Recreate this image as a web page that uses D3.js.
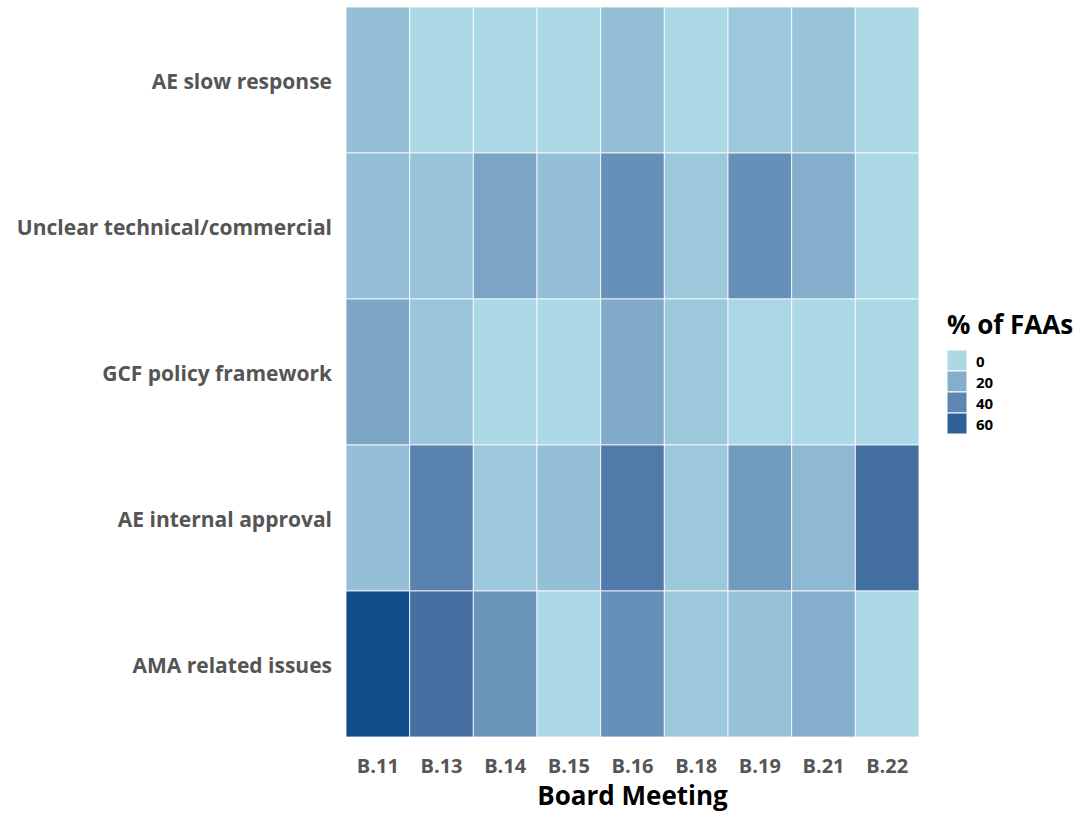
<!DOCTYPE html>
<html>
<head>
<meta charset="utf-8">
<script src="https://cdn.jsdelivr.net/npm/d3@7"></script>
<style>
  html, body { margin: 0; padding: 0; background: #ffffff; }
  svg { display: block; }
  svg text { font-family: "Open Sans", Lato, sans-serif; }
</style>
</head>
<body>
<svg id="chart" width="1091" height="813"></svg>
<script>
// ---- Data ----
const meetings = ["B.11", "B.13", "B.14", "B.15", "B.16", "B.18", "B.19", "B.21", "B.22"];
const issues = ["AE slow response", "Unclear technical/commercial", "GCF policy framework", "AE internal approval", "AMA related issues"];
const aeSlowResponse   = [12, 0, 0, 0, 12, 0, 8, 10, 0];
const unclearTechComm  = [12, 10, 25, 12, 35, 8, 35, 20, 0];
const gcfPolicy        = [24, 9, 0, 0, 22, 8, 1, 0, 0];
const aeInternal       = [12, 42, 8, 12, 46, 8, 30, 15, 52];
const amaRelated       = [70, 52, 33, 0, 35, 8, 11, 20, 0];
const legendBreaks = [0, 20, 40, 60];
const legendTitle = "% of FAAs";
const xTitle = "Board Meeting";

const seriesByIssue = [aeSlowResponse, unclearTechComm, gcfPolicy, aeInternal, amaRelated];
const cells = [];
issues.forEach((iss, i) => {
  meetings.forEach((m, j) => cells.push({ issue: iss, meeting: m, value: seriesByIssue[i][j] }));
});

// ---- Layout ----
const svg = d3.select("#chart");
const plot = { left: 346, right: 919, top: 7, bottom: 737 };

const x = d3.scaleBand().domain(meetings).range([plot.left, plot.right]).padding(0);
const y = d3.scaleBand().domain(issues).range([plot.top, plot.bottom]).padding(0);
const color = d3.scaleLinear().domain([0, 70]).range(["#ADD8E6", "#104E8B"]).interpolate(d3.interpolateLab);

// tiles
svg.append("g").selectAll("rect").data(cells).join("rect")
  .attr("x", d => x(d.meeting))
  .attr("y", d => y(d.issue))
  .attr("width", x.bandwidth())
  .attr("height", y.bandwidth())
  .attr("fill", d => color(d.value))
  .attr("stroke", "#ffffff")
  .attr("stroke-opacity", 0.8)
  .attr("stroke-width", 1);

// x axis
const xAxis = svg.append("g")
  .attr("transform", `translate(0,${plot.bottom + 22})`)
  .call(d3.axisBottom(x).tickSize(0).tickPadding(0));
xAxis.attr("font-family", null);
xAxis.select(".domain").remove();
xAxis.selectAll("text")
  .attr("dy", "0.71em")
  .style("font-size", "20px")
  .style("font-weight", "700")
  .style("fill", "#555555");

// y axis
const yAxis = svg.append("g")
  .attr("transform", `translate(${plot.left - 14},0)`)
  .call(d3.axisLeft(y).tickSize(0).tickPadding(0));
yAxis.attr("font-family", null);
yAxis.select(".domain").remove();
yAxis.selectAll("text")
  .attr("dy", "0.45em")
  .style("font-size", "21px")
  .style("font-weight", "700")
  .style("fill", "#555555");

// x title
svg.append("text")
  .attr("x", (plot.left + plot.right) / 2)
  .attr("y", 805)
  .attr("text-anchor", "middle")
  .style("font-size", "26px")
  .style("font-weight", "700")
  .style("fill", "#000")
  .text(xTitle);

// legend
const lg = svg.append("g").attr("transform", "translate(947,0)");
lg.append("text")
  .attr("x", 0).attr("y", 334)
  .style("font-size", "26px")
  .style("font-weight", "700")
  .style("fill", "#000")
  .text(legendTitle);
const keyH = 21, keyW = 20, keyTop = 350;
const lgItems = lg.selectAll("g.key").data(legendBreaks).join("g")
  .attr("class", "key")
  .attr("transform", (d, i) => `translate(0,${keyTop + i * keyH})`);
lgItems.append("rect")
  .attr("width", keyW).attr("height", keyH)
  .attr("fill", d => color(d))
  .attr("stroke", "#ffffff").attr("stroke-width", 1);
lgItems.append("text")
  .attr("x", 29).attr("y", keyH / 2 + 1)
  .attr("dy", "0.35em")
  .style("font-size", "15px")
  .style("font-weight", "700")
  .style("fill", "#000")
  .text(d => d);
</script>
</body>
</html>
